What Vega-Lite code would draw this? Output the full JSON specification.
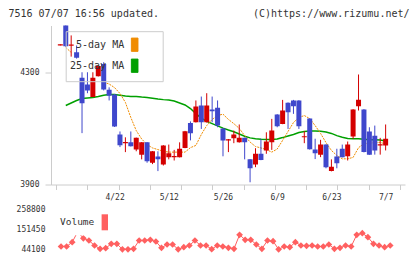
{
  "$schema": "https://vega.github.io/schema/vega-lite/v6.json",
  "background": "white",
  "padding": {"left": 8, "top": 7.5, "right": 5, "bottom": 5},
  "bounds": "flush",
  "spacing": 25,
  "data": {"values": [
    {"i": -1, "o": 4398, "h": 4402, "l": 4398, "c": 4402, "v": null, "ma5": null, "ma25": null},
    {"i": 0, "o": 4490, "h": 4495, "l": 4393, "c": 4395, "v": 60200, "ma5": 4391, "ma25": 4183},
    {"i": 1, "o": 4397, "h": 4434, "l": 4358, "c": 4401, "v": 60200, "ma5": 4373, "ma25": 4192},
    {"i": 2, "o": 4374, "h": 4398, "l": 4351, "c": 4354, "v": 83300, "ma5": null, "ma25": 4201},
    {"i": 3, "o": 4282, "h": 4302, "l": 4084, "c": 4191, "v": 140000, "ma5": null, "ma25": 4208},
    {"i": 4, "o": 4258, "h": 4302, "l": 4227, "c": 4237, "v": 104000, "ma5": null, "ma25": 4210},
    {"i": 5, "o": 4213, "h": 4302, "l": 4213, "c": 4282, "v": 92400, "ma5": null, "ma25": 4212},
    {"i": 6, "o": 4288, "h": 4326, "l": 4287, "c": 4324, "v": 65600, "ma5": null, "ma25": 4215},
    {"i": 7, "o": 4332, "h": 4338, "l": 4237, "c": 4240, "v": 47900, "ma5": 4266, "ma25": 4220},
    {"i": 8, "o": 4239, "h": 4248, "l": 4201, "c": 4218, "v": 51100, "ma5": 4260, "ma25": 4222},
    {"i": 9, "o": 4222, "h": 4224, "l": 4106, "c": 4108, "v": 74700, "ma5": 4247, "ma25": 4222},
    {"i": 10, "o": 4079, "h": 4090, "l": 4034, "c": 4041, "v": 74700, "ma5": 4226, "ma25": 4220},
    {"i": 11, "o": 4048, "h": 4069, "l": 4016, "c": 4052, "v": 45000, "ma5": 4194, "ma25": 4217},
    {"i": 12, "o": 4051, "h": 4090, "l": 4036, "c": 4037, "v": 45000, "ma5": 4140, "ma25": 4215},
    {"i": 13, "o": 4025, "h": 4068, "l": 4019, "c": 4067, "v": 47900, "ma5": 4093, "ma25": 4215},
    {"i": 14, "o": 4007, "h": 4052, "l": 3990, "c": 4051, "v": 92400, "ma5": 4063, "ma25": 4213},
    {"i": 15, "o": 4051, "h": 4052, "l": 3978, "c": 3983, "v": 92400, "ma5": 4043, "ma25": 4212},
    {"i": 16, "o": 3978, "h": 4020, "l": 3973, "c": 4019, "v": 96200, "ma5": 4031, "ma25": 4209},
    {"i": 17, "o": 4000, "h": 4019, "l": 3948, "c": 3990, "v": 87000, "ma5": 4025, "ma25": 4206},
    {"i": 18, "o": 3972, "h": 4041, "l": 3968, "c": 4040, "v": 53200, "ma5": 4019, "ma25": 4204},
    {"i": 19, "o": 3998, "h": 4043, "l": 3990, "c": 4012, "v": 71000, "ma5": 4016, "ma25": 4203},
    {"i": 20, "o": 3998, "h": 4024, "l": 3986, "c": 4002, "v": 71000, "ma5": 4016, "ma25": 4199},
    {"i": 21, "o": 3998, "h": 4051, "l": 3997, "c": 4028, "v": 45000, "ma5": 4016, "ma25": 4192},
    {"i": 22, "o": 4031, "h": 4092, "l": 4030, "c": 4091, "v": 56400, "ma5": 4016, "ma25": 4185},
    {"i": 23, "o": 4120, "h": 4126, "l": 4058, "c": 4084, "v": 65600, "ma5": 4032, "ma25": 4172},
    {"i": 24, "o": 4123, "h": 4201, "l": 4122, "c": 4179, "v": 92400, "ma5": 4040, "ma25": 4154},
    {"i": 25, "o": 4183, "h": 4215, "l": 4099, "c": 4123, "v": 65600, "ma5": 4079, "ma25": 4138},
    {"i": 26, "o": 4123, "h": 4227, "l": 4122, "c": 4183, "v": 65600, "ma5": 4111, "ma25": 4126},
    {"i": 27, "o": 4169, "h": 4215, "l": 4123, "c": 4162, "v": 45700, "ma5": 4133, "ma25": 4118},
    {"i": 28, "o": 4175, "h": 4201, "l": 4105, "c": 4111, "v": 65600, "ma5": 4147, "ma25": 4110},
    {"i": 29, "o": 4101, "h": 4102, "l": 4001, "c": 4058, "v": 60200, "ma5": 4152, "ma25": 4102},
    {"i": 30, "o": 4058, "h": 4063, "l": 4016, "c": 4062, "v": 53200, "ma5": 4133, "ma25": 4095},
    {"i": 31, "o": 4066, "h": 4093, "l": 4048, "c": 4079, "v": 47900, "ma5": 4118, "ma25": 4089},
    {"i": 32, "o": 4051, "h": 4115, "l": 4050, "c": 4067, "v": 123000, "ma5": 4101, "ma25": 4081},
    {"i": 33, "o": 4067, "h": 4068, "l": 3990, "c": 4051, "v": 96200, "ma5": 4075, "ma25": 4073},
    {"i": 34, "o": 3990, "h": 3991, "l": 3908, "c": 3958, "v": 96200, "ma5": 4052, "ma25": 4067},
    {"i": 35, "o": 3972, "h": 4030, "l": 3962, "c": 4010, "v": 71000, "ma5": 4036, "ma25": 4064},
    {"i": 36, "o": 4010, "h": 4064, "l": 3987, "c": 3988, "v": 47900, "ma5": 4031, "ma25": 4062},
    {"i": 37, "o": 4022, "h": 4087, "l": 4010, "c": 4054, "v": 92400, "ma5": 4025, "ma25": 4061},
    {"i": 38, "o": 4051, "h": 4135, "l": 4024, "c": 4093, "v": 88700, "ma5": 4016, "ma25": 4061},
    {"i": 39, "o": 4151, "h": 4152, "l": 4105, "c": 4109, "v": 45000, "ma5": 4027, "ma25": 4063},
    {"i": 40, "o": 4117, "h": 4203, "l": 4116, "c": 4165, "v": 60200, "ma5": 4058, "ma25": 4068},
    {"i": 41, "o": 4193, "h": 4194, "l": 4099, "c": 4159, "v": 56400, "ma5": 4090, "ma25": 4074},
    {"i": 42, "o": 4201, "h": 4203, "l": 4153, "c": 4180, "v": 83300, "ma5": 4122, "ma25": 4079},
    {"i": 43, "o": 4201, "h": 4202, "l": 4099, "c": 4109, "v": 65600, "ma5": 4140, "ma25": 4086},
    {"i": 44, "o": 4069, "h": 4091, "l": 4048, "c": 4073, "v": 63900, "ma5": 4147, "ma25": 4090},
    {"i": 45, "o": 4136, "h": 4137, "l": 4025, "c": 4026, "v": 65600, "ma5": 4136, "ma25": 4092},
    {"i": 46, "o": 4025, "h": 4064, "l": 3991, "c": 4012, "v": 60200, "ma5": 4111, "ma25": 4092},
    {"i": 47, "o": 4007, "h": 4060, "l": 3998, "c": 4043, "v": 60200, "ma5": 4083, "ma25": 4091},
    {"i": 48, "o": 4043, "h": 4044, "l": 3958, "c": 3962, "v": 71000, "ma5": 4050, "ma25": 4088},
    {"i": 49, "o": 3948, "h": 3990, "l": 3947, "c": 3964, "v": 47900, "ma5": 4022, "ma25": 4083},
    {"i": 50, "o": 4000, "h": 4028, "l": 3958, "c": 3976, "v": 53200, "ma5": 4004, "ma25": 4075},
    {"i": 51, "o": 4028, "h": 4043, "l": 3997, "c": 3998, "v": 65600, "ma5": 3992, "ma25": 4069},
    {"i": 52, "o": 4001, "h": 4054, "l": 3986, "c": 4043, "v": 60200, "ma5": 3992, "ma25": 4065},
    {"i": 53, "o": 4072, "h": 4170, "l": 4064, "c": 4169, "v": 123000, "ma5": 3997, "ma25": 4064},
    {"i": 54, "o": 4180, "h": 4294, "l": 4165, "c": 4204, "v": 131600, "ma5": 4032, "ma25": 4064},
    {"i": 55, "o": 4169, "h": 4170, "l": 4015, "c": 4016, "v": 110100, "ma5": 4046, "ma25": 4062},
    {"i": 56, "o": 4090, "h": 4105, "l": 4006, "c": 4007, "v": 74700, "ma5": 4048, "ma25": 4060},
    {"i": 57, "o": 4075, "h": 4111, "l": 4007, "c": 4022, "v": 65600, "ma5": 4050, "ma25": 4060},
    {"i": 58, "o": 4040, "h": 4067, "l": 4007, "c": 4044, "v": 56400, "ma5": 4051, "ma25": 4059},
    {"i": 59, "o": 4040, "h": 4115, "l": 4022, "c": 4064, "v": 65600, "ma5": 4045, "ma25": 4056}
  ]},
  "resolve": {
    "scale": {"x": "independent", "y": "independent", "color": "independent"},
    "legend": {"color": "independent"}
  },
  "config": {
    "view": {"stroke": null},
    "axis": {"labelFont": "DejaVu Sans Mono", "titleFont": "DejaVu Sans Mono", "labelColor": "#333333", "titleColor": "#333333", "grid": false},
    "legend": {"labelFont": "DejaVu Sans Mono", "labelColor": "#333333"}
  },
  "vconcat": [
    {
      "width": 354,
      "height": 159,
      "encoding": {
        "x": {"field": "i", "type": "quantitative",
          "scale": {"domain": [-1.8, 61.65], "nice": false, "zero": false},
          "axis": {
            "values": [-1.8, 3.968, 9, 9.736, 15.505, 19, 21.273, 27.041, 29, 32.809, 38.577, 39, 44.345, 49, 50.114, 55.882, 59, 61.65],
            "labelExpr": "datum.value == 9 ? '4/22' : datum.value == 19 ? '5/12' : datum.value == 29 ? '5/26' : datum.value == 39 ? '6/9' : datum.value == 49 ? '6/23' : datum.value == 59 ? '7/7' : ''",
            "tickOpacity": {"condition": {"test": "datum.value == 9 || datum.value == 19 || datum.value == 29 || datum.value == 39 || datum.value == 49 || datum.value == 59", "value": 0}, "value": 1},
            "tickSize": 5, "tickColor": "#cccccc", "domainColor": "#cccccc",
            "labelFontSize": 8, "labelPadding": 4, "labelOverlap": false, "labelFlush": false,
            "title": "(C)https://www.rizumu.net/",
            "titleFontSize": 10, "titleFontWeight": "normal", "titleAngle": 0,
            "titleAlign": "right", "titleBaseline": "alphabetic", "titleX": 358, "titleY": -168.5
          }
        }
      },
      "layer": [
        {
          "mark": {"type": "line", "strokeWidth": 1.5, "clip": true},
          "encoding": {
            "y": {"field": "ma25", "type": "quantitative",
              "scale": {"domain": [3900, 4469.5], "nice": false, "zero": false},
              "axis": {
                "values": [3900, 4300], "format": "d",
                "tickSize": 6, "tickColor": "#cccccc", "domainColor": "#cccccc",
                "labelFontSize": 8, "labelPadding": 6, "labelFlush": false, "labelOverlap": false,
                "title": "7516 07/07 16:56 updated.",
                "titleFontSize": 10, "titleFontWeight": "normal", "titleAngle": 0,
                "titleAlign": "left", "titleBaseline": "alphabetic", "titleX": -43, "titleY": -9.5
              }
            },
            "color": {"datum": "25-day MA", "type": "nominal",
              "scale": {"domain": ["5-day MA", "25-day MA"], "range": ["#f08c00", "#00a000"]},
              "legend": {
                "orient": "none", "legendX": 14.7, "legendY": 5.7, "title": null,
                "padding": 6, "rowPadding": 2,
                "strokeColor": "#cccccc",
                "labelFontSize": 10, "labelAlign": "right", "labelOffset": -18,
                "symbolType": "M-0.5,-1H0.5V1H-0.5Z M3,0", "symbolSize": 177, "symbolOffset": 55.5,
                "symbolStrokeWidth": 1,
                "encode": {"symbols": {"update": {
                  "fill": {"signal": "datum.value === '5-day MA' ? '#f08c00' : '#00a000'"},
                  "stroke": {"value": "#333333"},
                  "strokeWidth": {"value": 1},
                  "strokeDash": {"value": [1, 0]},
                  "opacity": {"value": 1}
                }}}
              }
            }
          }
        },
        {
          "mark": {"type": "line", "strokeWidth": 1, "strokeDash": [2, 1], "clip": true, "invalid": "break-paths-show-domains"},
          "encoding": {
            "y": {"field": "ma5", "type": "quantitative"},
            "color": {"datum": "5-day MA", "type": "nominal"}
          }
        },
        {
          "mark": {"type": "rule", "strokeWidth": 1, "clip": true},
          "encoding": {
            "y": {"field": "l", "type": "quantitative"},
            "y2": {"field": "h"},
            "color": {"condition": {"test": "datum.c >= datum.o", "value": "#d40000"}, "value": "#3f47cc"}
          }
        },
        {
          "mark": {"type": "bar", "size": 5, "clip": true},
          "encoding": {
            "y": {"field": "o", "type": "quantitative"},
            "y2": {"field": "c"},
            "color": {"condition": {"test": "datum.c >= datum.o", "value": "#d40000"}, "value": "#3f47cc"}
          }
        }
      ]
    },
    {
      "width": 354,
      "height": 40,
      "encoding": {
        "x": {"field": "i", "type": "quantitative", "scale": {"domain": [-1.8, 61.65], "nice": false, "zero": false}, "axis": null},
        "y": {"field": "v", "type": "quantitative",
          "scale": {"domain": [44100, 258800], "nice": false, "zero": false},
          "axis": {"values": [44100, 151450, 258800], "format": "d", "domain": false, "ticks": false, "labelFontSize": 8, "labelPadding": 6, "labelFlush": false, "labelOverlap": false, "title": null}
        }
      },
      "layer": [
        {
          "mark": {"type": "line", "color": "#ff6060", "strokeWidth": 1}
        },
        {
          "mark": {"type": "point", "shape": "diamond", "filled": true, "size": 45, "opacity": 1},
          "encoding": {
            "color": {"datum": "Volume", "type": "nominal",
              "scale": {"domain": ["Volume"], "range": ["#ff6060"]},
              "legend": {
                "orient": "none", "legendX": 3, "legendY": -1.2, "title": null,
                "padding": 5, "fillColor": "white",
                "labelFontSize": 9.5, "labelAlign": "right", "labelOffset": -19.5,
                "symbolType": "M-0.4,-1H0.4V1H-0.4Z", "symbolSize": 256, "symbolOffset": 36.8,
                "encode": {"symbols": {"update": {
                  "fill": {"value": "#ff6060"},
                  "stroke": {"value": "#333333"},
                  "strokeWidth": {"value": 1},
                  "opacity": {"value": 1}
                }}}
              }
            }
          }
        }
      ]
    }
  ]
}
